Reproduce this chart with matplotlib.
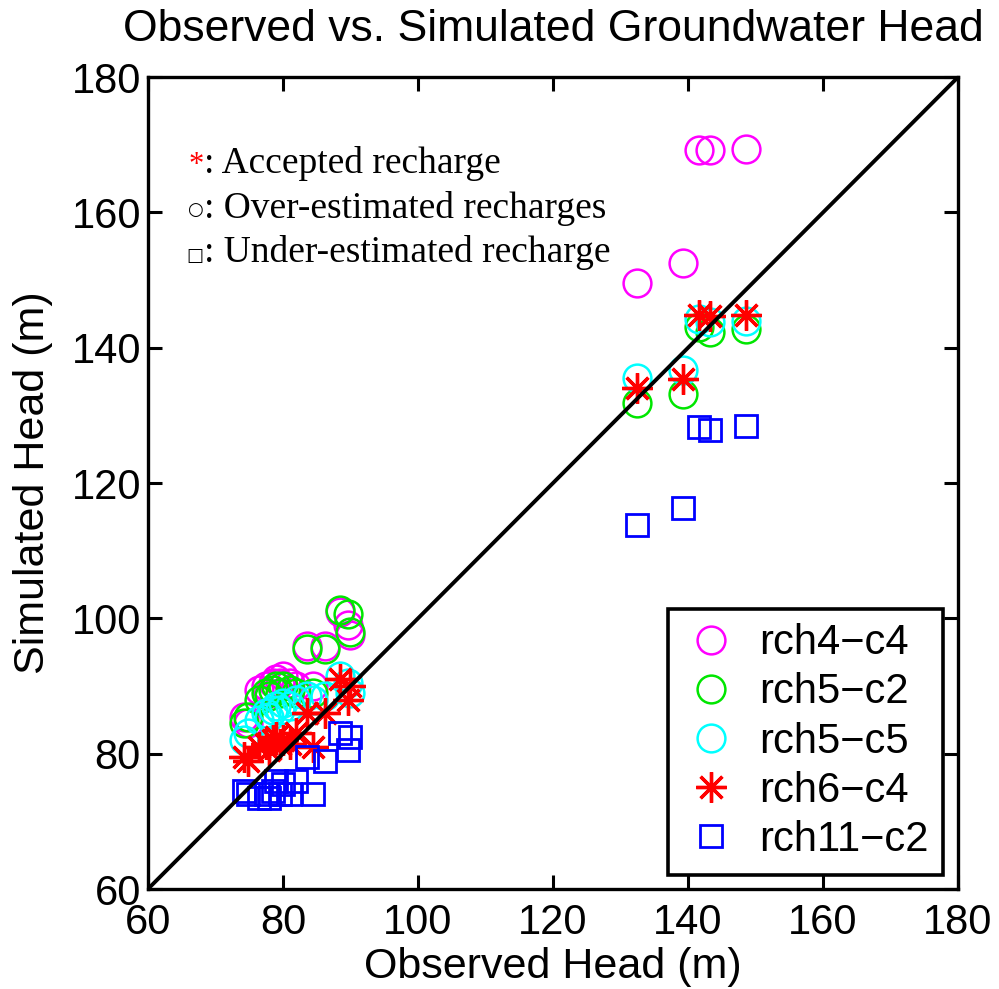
import matplotlib
matplotlib.use("Agg")
import matplotlib.pyplot as plt

# observed heads of wells (m)
observed = [74.2, 74.8, 76.5, 77.5, 78.0, 78.5, 79.0, 79.5, 80.0, 81.0, 82.0,
            83.5, 84.5, 86.2, 88.4, 89.7, 90.0,
            132.5, 139.3, 141.7, 143.2, 148.6]

series_names = ["rch4\u2212c4", "rch5\u2212c2", "rch5\u2212c5", "rch6\u2212c4", "rch11\u2212c2"]

rch4_c4 = [85.5, 84.5, 89.5, 90.0, 89.0, 90.5, 91.0, 90.5, 91.5, 90.5, 90.0,
           96.0, 90.0, 96.0, 101.0, 99.0, 97.5,
           149.6, 152.6, 169.3, 169.3, 169.4]
rch5_c2 = [84.5, 85.5, 88.0, 89.0, 88.5, 89.5, 90.0, 89.0, 90.0, 89.5, 89.0,
           95.5, 89.0, 95.5, 101.2, 100.6, 98.0,
           131.8, 133.2, 143.0, 142.4, 142.8]
rch5_c5 = [82.0, 83.0, 85.0, 86.0, 85.5, 86.5, 87.0, 86.5, 87.5, 87.0, 88.0,
           88.5, 88.0, 88.5, 91.5, 90.5, 89.0,
           135.6, 136.7, 144.3, 143.8, 143.9]
rch6_c4 = [79.5, 79.0, 81.0, 81.5, 80.5, 82.0, 82.5, 81.5, 82.0, 81.5, 83.0,
           86.0, 81.0, 86.0, 91.0, 88.0, 90.0,
           134.0, 135.4, 144.8, 144.7, 144.8]
rch11_c2 = [74.5, 74.0, 73.5, 74.0, 73.5, 74.5, 76.0, 74.0, 75.5, 74.0, 76.0,
            79.5, 74.0, 79.0, 83.0, 80.5, 82.5,
            113.8, 116.3, 128.3, 127.9, 128.5]

series = [rch4_c4, rch5_c2, rch5_c5, rch6_c4, rch11_c2]
colors = ["#ff00ff", "#00e600", "#00ffff", "#ff0000", "#0000ff"]
markers = ["o", "o", "o", (8, 2, 0), "s"]
msizes = [20, 20, 20, 22, 16]
mews = [1.8, 1.8, 1.8, 2.4, 2.0]

plt.rcParams["font.family"] = ["Liberation Sans", "DejaVu Sans"]

fig = plt.figure(figsize=(9.99, 9.89), dpi=100)
ax = fig.add_axes([0.148, 0.101, 0.811, 0.821])

for name, ys, c, m, ms, mew in zip(series_names, series, colors, markers, msizes, mews):
    ax.plot(observed, ys, linestyle="none", marker=m, markersize=ms,
            markerfacecolor="none", markeredgecolor=c, markeredgewidth=mew,
            color=c, label=name)

ax.plot([60, 180], [60, 180], color="black", linewidth=2.8)

ax.set_xlim(60, 180)
ax.set_ylim(60, 180)
ax.set_xticks(range(60, 181, 20))
ax.set_yticks(range(60, 181, 20))
ax.tick_params(direction="in", length=10, width=2.2, labelsize=30, top=True, right=True)
ax.tick_params(axis="x", pad=10)
ax.tick_params(axis="y", pad=5)
for s in ax.spines.values():
    s.set_linewidth(2.4)

ax.set_xlabel("Observed Head (m)", fontsize=31, labelpad=3)
ax.set_ylabel("Simulated Head (m)", fontsize=31, labelpad=13)
ax.set_title("Observed vs. Simulated Groundwater Head", fontsize=32, pad=26)

leg = ax.legend(loc="lower right", fontsize=30, frameon=True, fancybox=False,
                edgecolor="black", borderpad=0.35, labelspacing=0.22,
                handlelength=1.4, handletextpad=0.45, borderaxespad=0.35,
                numpoints=1, framealpha=1)
leg.get_frame().set_linewidth(2.6)

serif = ["Liberation Serif", "DejaVu Serif"]
sym = ["DejaVu Sans"]
ax.text(0.050, 0.882, "*", transform=ax.transAxes, color="red", fontsize=22, family=serif, va="baseline")
ax.text(0.069, 0.882, ": Accepted recharge", transform=ax.transAxes, fontsize=27, family=serif, va="baseline")
ax.text(0.048, 0.830, "\u25cb", transform=ax.transAxes, fontsize=13, family=sym, va="baseline")
ax.text(0.069, 0.826, ": Over-estimated recharges", transform=ax.transAxes, fontsize=27, family=serif, va="baseline")
ax.text(0.048, 0.774, "\u25a1", transform=ax.transAxes, fontsize=13, family=sym, va="baseline")
ax.text(0.069, 0.772, ": Under-estimated recharge", transform=ax.transAxes, fontsize=27, family=serif, va="baseline")

fig.savefig("out.png", dpi=100)
